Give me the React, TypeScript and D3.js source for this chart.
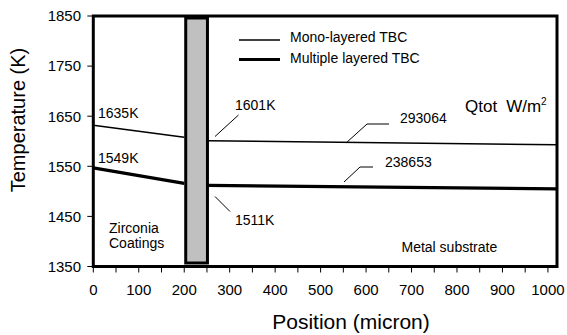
import React from "react";
import * as d3 from "d3";

const W = 567;
const H = 335;

const xDomain = [0, 1020];
const yDomain = [1350, 1850];
const xTicks = d3.range(0, 1001, 50);
const xTickLabels = [0, 100, 200, 300, 400, 500, 600, 700, 800, 900, 1000];
const yTicks = [1350, 1450, 1550, 1650, 1750, 1850];

// [position (micron), temperature (K)]
const monoCoating = [[0, 1632], [200, 1608]];
const monoMetal = [[252, 1601], [1020, 1593]];
const multiCoating = [[0, 1547], [200, 1516]];
const multiMetal = [[252, 1512], [1020, 1505]];

const bondCoat = { x0: 200, x1: 250, y0: 1357, y1: 1850 };

const FONT = "'Liberation Sans', Arial, Helvetica, sans-serif";

export default function App() {
  const x = d3.scaleLinear().domain(xDomain).range([93.3, 557]);
  const y = d3.scaleLinear().domain(yDomain).range([266.5, 16]);
  const line = d3
    .line<number[]>()
    .x((d) => x(d[0]))
    .y((d) => y(d[1]));

  const txt = (props: any, s: React.ReactNode, size = 14) => (
    <text fontFamily={FONT} fontSize={size} fill="#000" {...props}>
      {s}
    </text>
  );

  return (
    <svg
      width={W}
      height={H}
      style={{ position: "absolute", left: 0, top: 0, background: "#fff" }}
    >
      <rect width={W} height={H} fill="#fff" />
      {/* bond coat bar */}
      <rect
        x={x(bondCoat.x0) + 1.5}
        y={y(bondCoat.y1) + 2}
        width={x(bondCoat.x1) - x(bondCoat.x0) - 1}
        height={y(bondCoat.y0) - y(bondCoat.y1) - 2}
        fill="#c0c0c0"
        stroke="#000"
        strokeWidth={3}
      />
      {/* data lines */}
      <path d={line(monoCoating as any) || ""} fill="none" stroke="#000" strokeWidth={1.6} />
      <path d={line(monoMetal as any) || ""} fill="none" stroke="#000" strokeWidth={1.6} />
      <path d={line(multiCoating as any) || ""} fill="none" stroke="#000" strokeWidth={3.2} />
      <path d={line(multiMetal as any) || ""} fill="none" stroke="#000" strokeWidth={3.2} />

      {/* frame */}
      <rect
        x={x(0)}
        y={y(1850)}
        width={x(1020) - x(0)}
        height={y(1350) - y(1850)}
        fill="none"
        stroke="#000"
        strokeWidth={3}
      />
      {/* y ticks */}
      {yTicks.map((t) => (
        <g key={"y" + t}>
          <line x1={x(0) - 6} x2={x(0)} y1={y(t)} y2={y(t)} stroke="#000" strokeWidth={1} />
          {txt({ x: 81, y: y(t) + 5.3, textAnchor: "end" }, t, 15)}
        </g>
      ))}
      {/* x ticks */}
      {xTicks.map((t) => (
        <line key={"x" + t} x1={x(t)} x2={x(t)} y1={y(1350)} y2={y(1350) + 6} stroke="#000" strokeWidth={1} />
      ))}
      {xTickLabels.map((t) =>
        <React.Fragment key={"xl" + t}>
          {txt({ x: x(t), y: 295, textAnchor: "middle" }, t, 15)}
        </React.Fragment>
      )}

      {/* axis titles */}
      {txt({ x: 351, y: 329, textAnchor: "middle" }, "Position (micron)", 21)}
      {txt({ transform: "translate(25,120) rotate(-90)", textAnchor: "middle" }, "Temperature (K)", 20)}

      {/* legend */}
      <line x1={239} x2={280} y1={40} y2={40} stroke="#000" strokeWidth={1.6} />
      <line x1={239} x2={280} y1={59.5} y2={59.5} stroke="#000" strokeWidth={3.2} />
      {txt({ x: 290, y: 42 }, "Mono-layered TBC", 14)}
      {txt({ x: 290, y: 63 }, "Multiple layered TBC", 14)}

      {/* annotations */}
      {txt({ x: 98, y: 118 }, "1635K", 14)}
      {txt({ x: 98, y: 163 }, "1549K", 14)}
      {txt({ x: 235, y: 110 }, "1601K", 14)}
      <line x1={238.5} y1={115} x2={215} y2={136.5} stroke="#000" strokeWidth={1} />
      {txt({ x: 235, y: 225 }, "1511K", 14)}
      <line x1={215} y1={196.5} x2={230} y2={211.5} stroke="#000" strokeWidth={1} />

      {txt({ x: 400, y: 123 }, "293064", 14)}
      <polyline points="389,124 367,124 346,143" fill="none" stroke="#000" strokeWidth={1} />
      {txt({ x: 385, y: 167 }, "238653", 14)}
      <polyline points="373,167 360,167 344,182" fill="none" stroke="#000" strokeWidth={1} />

      <text fontFamily={FONT} fontSize={17} x={465} y={112} fill="#000">
        Qtot
        <tspan dx={9}>W/m</tspan>
        <tspan fontSize={10} dy={-7}>2</tspan>
      </text>

      {txt({ x: 109, y: 233 }, "Zirconia", 14)}
      {txt({ x: 109, y: 248 }, "Coatings", 14)}
      {txt({ x: 401.5, y: 251.5 }, "Metal substrate", 14)}
    </svg>
  );
}
